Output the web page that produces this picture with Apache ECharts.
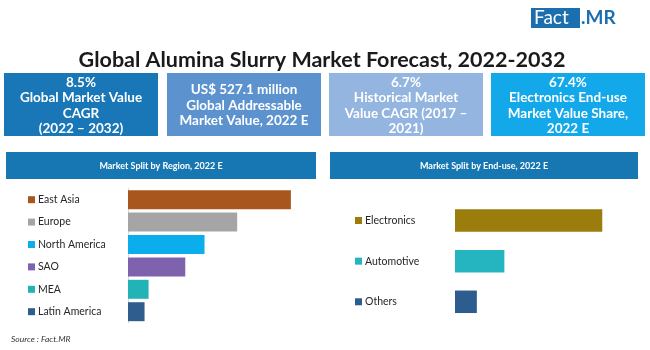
<!DOCTYPE html>
<html>
<head>
<meta charset="utf-8">
<script src="https://cdn.jsdelivr.net/npm/echarts@6/dist/echarts.min.js"></script>
<style>html,body{margin:0;padding:0;background:#fff}#c{width:650px;height:350px}</style>
</head>
<body>
<div id="c"></div>
<script>
var title = 'Global Alumina Slurry Market Forecast, 2022-2032';
var kpiTexts = [
  '8.5%\nGlobal Market Value\nCAGR\n(2022 – 2032)',
  'US$ 527.1 million\nGlobal Addressable\nMarket Value, 2022 E',
  '6.7%\nHistorical Market\nValue CAGR (2017 –\n2021)',
  '67.4%\nElectronics End-use\nMarket Value Share,\n2022 E'
];
var regionTitle = 'Market Split by Region, 2022 E';
var endUseTitle = 'Market Split by End-use, 2022 E';
var regionCats = ['East Asia', 'Europe', 'North America', 'SAO', 'MEA', 'Latin America'];
var regionValues = [36.4, 24.4, 17.1, 12.8, 4.6, 3.7];
var endUseCats = ['Electronics', 'Automotive', 'Others'];
var endUseValues = [67.4, 22.6, 10.0];
var sourceText = 'Source : Fact.MR';

var regionColors = ['#a8561d', '#a5a5a5', '#0aaeec', '#7f62ad', '#22b3b6', '#2f5e8e'];
var endUseColors = ['#9a7d0c', '#25b5c1', '#2d5d8e'];
var kpiColors = ['#1a77b7', '#5c93cf', '#93b5df', '#12a8ea'];
var kpiX = [4, 167, 329, 491];
var FONT = 'Lato, "Open Sans", sans-serif';

function richFor(colors, size) {
  var r = { t: { fontSize: size, color: '#262626', fontFamily: FONT, padding: [0, 0, 0, 3] } };
  colors.forEach(function (c, i) { r['s' + i] = { width: 7, height: 7, backgroundColor: c }; });
  return r;
}

var graphics = [];
// title
graphics.push({ type: 'text', x: 322, y: 60, style: { text: title, font: 'bold 21.5px ' + FONT, fill: '#1a1a1a', textAlign: 'center', textVerticalAlign: 'middle' } });
// logo
graphics.push({ type: 'rect', shape: { x: 531, y: 8, width: 49, height: 20 }, style: { fill: '#1c6fae' } });
graphics.push({ type: 'text', x: 534, y: 18, style: { text: 'Fact', font: '19px ' + FONT, fill: '#fff', textVerticalAlign: 'middle' } });
graphics.push({ type: 'text', x: 581, y: 18, style: { text: '.MR', font: 'bold 19px ' + FONT, fill: '#1c6fae', textVerticalAlign: 'middle' } });
// KPI boxes
kpiTexts.forEach(function (t, i) {
  graphics.push({ type: 'rect', shape: { x: kpiX[i], y: 73, width: 154, height: 63 }, style: { fill: kpiColors[i] } });
  graphics.push({ type: 'text', x: kpiX[i] + 77, y: 105.5, style: { text: t, font: 'bold 13.5px ' + FONT, fill: '#fff', textAlign: 'center', textVerticalAlign: 'middle', lineHeight: 15.4 } });
});
// section bands
graphics.push({ type: 'rect', shape: { x: 6, y: 152, width: 310, height: 27 }, style: { fill: '#1777b3' } });
graphics.push({ type: 'text', x: 161, y: 166.5, style: { text: regionTitle, font: 'bold 9px ' + FONT, fill: '#fff', textAlign: 'center', textVerticalAlign: 'middle' } });
graphics.push({ type: 'rect', shape: { x: 330, y: 152, width: 308, height: 27 }, style: { fill: '#1777b3' } });
graphics.push({ type: 'text', x: 484, y: 166.5, style: { text: endUseTitle, font: 'bold 9px ' + FONT, fill: '#fff', textAlign: 'center', textVerticalAlign: 'middle' } });
// source
graphics.push({ type: 'text', x: 11, y: 339, style: { text: sourceText, font: 'italic 8.5px ' + FONT, fill: '#333', textVerticalAlign: 'middle' } });

var chart = echarts.init(document.getElementById('c'), null, { renderer: 'canvas' });
chart.setOption({
  animation: false,
  graphic: graphics,
  grid: [
    { left: 128, top: 188.5, width: 179, height: 134.4 },
    { left: 455, top: 200.2, width: 174.8, height: 121.9 }
  ],
  xAxis: [
    { gridIndex: 0, type: 'value', min: 0, max: 40, show: false },
    { gridIndex: 1, type: 'value', min: 0, max: 80, show: false }
  ],
  yAxis: [
    {
      gridIndex: 0, type: 'category', data: regionCats, inverse: true,
      axisLine: { show: true, lineStyle: { color: '#d9d9d9' } }, axisTick: { show: false },
      axisLabel: {
        align: 'left', margin: 100,
        formatter: function (v, i) { return '{s' + i + '|}{t|' + v + '}'; },
        rich: richFor(regionColors, 10.5)
      }
    },
    {
      gridIndex: 1, type: 'category', data: endUseCats, inverse: true,
      axisLine: { show: false }, axisTick: { show: false },
      axisLabel: {
        align: 'left', margin: 100,
        formatter: function (v, i) { return '{s' + i + '|}{t|' + v + '}'; },
        rich: richFor(endUseColors, 10.5)
      }
    }
  ],
  series: [
    {
      type: 'bar', xAxisIndex: 0, yAxisIndex: 0, barWidth: 19,
      data: regionValues.map(function (v, i) { return { value: v, itemStyle: { color: regionColors[i] } }; })
    },
    {
      type: 'bar', xAxisIndex: 1, yAxisIndex: 1, barWidth: 22.5,
      data: endUseValues.map(function (v, i) { return { value: v, itemStyle: { color: endUseColors[i] } }; })
    }
  ]
});
</script>
</body>
</html>
